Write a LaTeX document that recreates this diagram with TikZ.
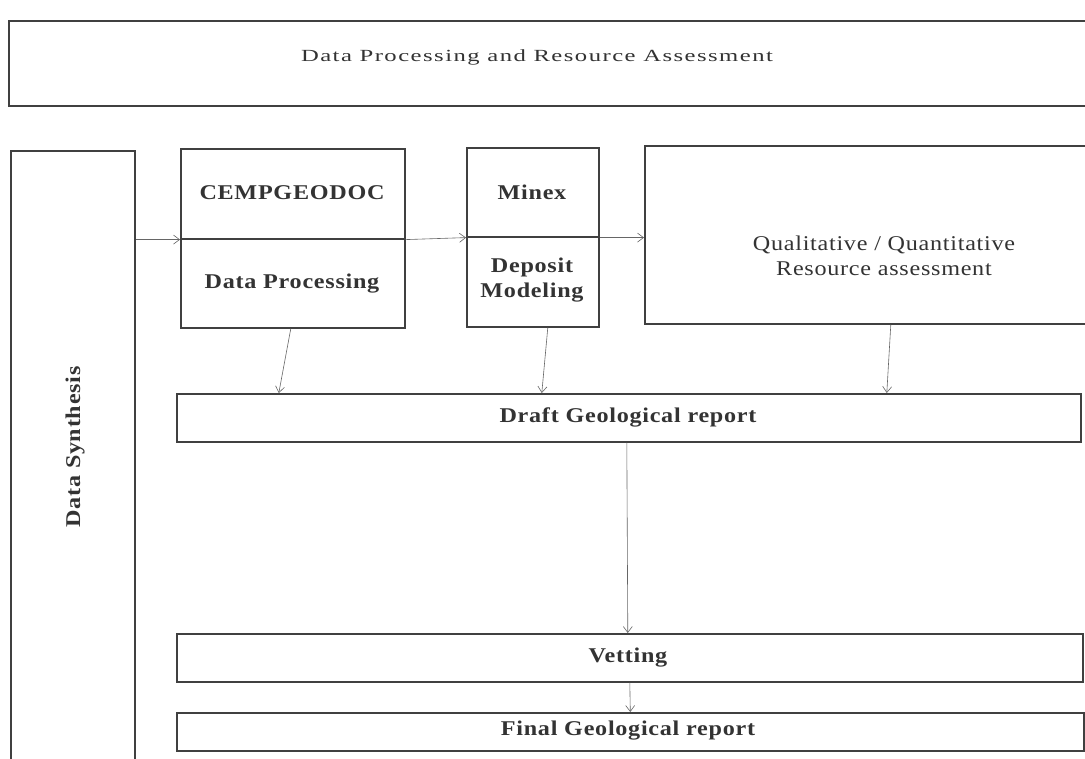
\documentclass[tikz,border=0pt]{standalone}
\usepackage{fontspec}
\setmainfont{Liberation Serif}
\newfontfamily\spfont[LetterSpace=3]{Liberation Serif}
\newfontfamily\titlefont[LetterSpace=6]{Liberation Serif}
\usetikzlibrary{arrows.meta,calc}
\newcommand{\bxt}[1]{\scalebox{1.15}[1]{\spfont\bfseries #1}}
\newcommand{\rgt}[1]{\scalebox{1.15}[1]{\spfont #1}}
\newcommand{\ttl}[1]{\scalebox{1.45}[1]{\titlefont #1}}
\begin{document}
\begin{tikzpicture}[x=1pt,y=-1pt,
  box/.style={draw=black!75,line width=1.6pt,rectangle,inner sep=0pt,anchor=north west,fill=white},
  lbl/.style={inner sep=0pt,font=\fontsize{21}{25}\selectfont,text=black!80,align=center},
  conn/.style={draw=black!60,line width=0.6pt,-{Straight Barb[length=6pt,width=9pt,line width=0.6pt]}}]
\useasboundingbox (0,0) rectangle (1085,759);
\clip (0,0) rectangle (1085,759);
\fill[white] (0,0) rectangle (1085,759);
% title
\node[box,minimum width=1090pt,minimum height=85pt] (top) at (8,20) {};
\node[lbl,font=\fontsize{17}{20}\selectfont] (toptxt) at (537,57) {\ttl{Data Processing and Resource Assessment}};
% data synthesis
\node[box,minimum width=124pt,minimum height=620pt] (ds) at (10,150) {};
\node[lbl,rotate=90] (dstxt) at (75,447) {\bxt{Data Synthesis}};
% CEMPGEODOC
\node[box,minimum width=224pt,minimum height=90pt] (cem) at (180,148) {};
\node[box,minimum width=224pt,minimum height=89pt] (dp) at (180,238) {};
\node[lbl] (cemtxt) at (292,193) {\bxt{CEMPGEODOC}};
\node[lbl] (dptxt) at (292,284) {\bxt{Data Processing}};
% Minex
\node[box,minimum width=132pt,minimum height=89pt] (mx) at (466,147) {};
\node[box,minimum width=132pt,minimum height=90pt] (md) at (466,236) {};
\node[lbl] (mxtxt) at (532,192) {\bxt{Minex}};
\node[lbl] (mdtxt) at (532,280) {\bxt{Deposit}\\[0pt]\bxt{Modeling}};
% Qualitative
\node[box,minimum width=480pt,minimum height=178pt] (q) at (644,145) {};
\node[lbl] (qtxt) at (884,256) {\rgt{Qualitative / Quantitative}\\[0pt]\rgt{Resource assessment}};
% Draft / Vetting / Final
\node[box,minimum width=904pt,minimum height=48pt] (draft) at (176,393) {};
\node[lbl] (drafttxt) at (628,417) {\bxt{Draft Geological report}};
\node[box,minimum width=906pt,minimum height=48pt] (vet) at (176,633) {};
\node[lbl] (vettxt) at (628,658) {\bxt{Vetting}};
\node[box,minimum width=907pt,minimum height=38pt] (fin) at (176,712) {};
\node[lbl] (fintxt) at (628,731) {\bxt{Final Geological report}};
% connectors
\draw[conn] (ds.east |- cem.south west) -- (cem.south west);
\draw[conn] (cem.south east) -- (mx.south west);
\draw[conn] (mx.south east) -- (q.west |- mx.south east);
\draw[conn] ([xshift=-2pt]dp.south) -- ([xshift=-350pt]draft.north);
\draw[conn] ([xshift=15pt]md.south) -- ([xshift=-87pt]draft.north);
\draw[conn] ([xshift=6pt]q.south) -- ([xshift=258pt]draft.north);
\draw[conn] ([xshift=-2pt]draft.south) -- ([xshift=-2pt]vet.north);
\draw[conn] (vet.south) -- (fin.north);
\end{tikzpicture}
\end{document}
